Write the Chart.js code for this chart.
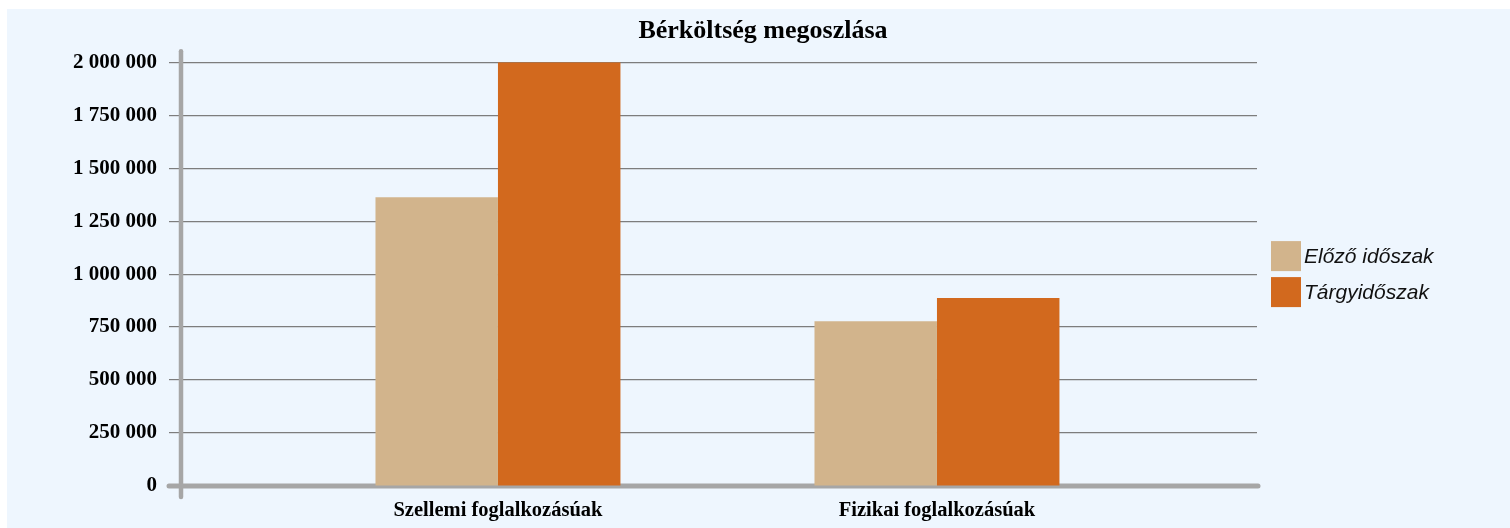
<!DOCTYPE html>
<html lang="hu">
<head>
    <meta charset="UTF-8">
    <title>Bérköltség megoszlása</title>
    <script src="https://cdn.jsdelivr.net/npm/chart.js"></script>
    <style>
        body { margin: 0; background: #ffffff; }
        #wrap { position: absolute; left: 7px; top: 9px; width: 1503px; height: 519px; background: #eef6fe; }
    </style>
</head>
<body>
    <div id="wrap"><canvas id="berChart"></canvas></div>

<script>
    // Data
    const categories = ['Szellemi foglalkozásúak', 'Fizikai foglalkozásúak'];
    const seriesNames = ['Előző időszak', 'Tárgyidőszak'];
    const elozo = [1363000, 778000];
    const targy = [2000000, 887000];
    const yTicks = [0, 250000, 500000, 750000, 1000000, 1250000, 1500000, 1750000, 2000000];

    const colors = ['#d2b48c', '#d2691e'];
    const serif = '"Liberation Serif", "Times New Roman", serif';

    function fmt(n) {
        return n.toString().replace(/\B(?=(\d{3})+(?!\d))/g, ' ');
    }

    // thick axis lines + legend drawn by hand
    const axesAndLegend = {
        id: 'axesAndLegend',
        beforeDatasetsDraw(chart) {
            const ctx = chart.ctx;
            const a = chart.chartArea;
            ctx.save();
            ctx.strokeStyle = '#a6a6a6';
            ctx.lineCap = 'round';
            ctx.lineWidth = 4.5;
            ctx.beginPath();
            ctx.moveTo(a.left, a.top - 11);
            ctx.lineTo(a.left, a.bottom + 11);
            ctx.stroke();
            ctx.lineWidth = 5;
            ctx.beginPath();
            ctx.moveTo(a.left - 12, a.bottom);
            ctx.lineTo(a.right + 1, a.bottom);
            ctx.stroke();
            ctx.restore();
        },
        afterDraw(chart) {
            const ctx = chart.ctx;
            const a = chart.chartArea;
            const box = 30, gap = 6;
            const n = chart.data.datasets.length;
            let y = (a.top + a.bottom) / 2 - (n * box + (n - 1) * gap) / 2;
            const x = a.right + 14;
            ctx.save();
            ctx.font = 'italic 21px "Liberation Sans", Arial, sans-serif';
            ctx.textBaseline = 'middle';
            chart.data.datasets.forEach(ds => {
                ctx.fillStyle = ds.backgroundColor;
                ctx.fillRect(x, y, box, box);
                ctx.fillStyle = '#111';
                ctx.fillText(ds.label, x + box + 3, y + box / 2 + 1);
                y += box + gap;
            });
            ctx.restore();
        }
    };

    const ctx = document.getElementById('berChart').getContext('2d');
    const chart = new Chart(ctx, {
        type: 'bar',
        data: {
            datasets: [
                {
                    label: seriesNames[0],
                    backgroundColor: colors[0],
                    data: elozo.map((v, i) => ({ x: i, y: v }))
                },
                {
                    label: seriesNames[1],
                    backgroundColor: colors[1],
                    data: targy.map((v, i) => ({ x: i, y: v }))
                }
            ]
        },
        options: {
            responsive: true,
            maintainAspectRatio: false,
            animation: false,
            categoryPercentage: 0.558,
            barPercentage: 1,
            layout: { padding: { left: 9, right: 0, top: 0, bottom: 0 } },
            plugins: {
                legend: { display: false },
                tooltip: { enabled: false },
                title: {
                    display: true,
                    text: 'Bérköltség megoszlása',
                    color: '#000',
                    font: { family: serif, size: 26, weight: 'bold' },
                    padding: { top: 7, bottom: 15 }
                }
            },
            scales: {
                x: {
                    type: 'linear',
                    min: -0.722,
                    max: 1.729,
                    offset: false,
                    grid: { display: false, drawTicks: false },
                    border: { display: false },
                    afterBuildTicks: s => { s.ticks = categories.map((c, i) => ({ value: i })); },
                    afterFit: s => { s.height = 42; },
                    ticks: {
                        autoSkip: false,
                        maxRotation: 0,
                        padding: 12,
                        color: '#000',
                        font: { family: serif, size: 20.5, weight: 'bold' },
                        callback: v => categories[v]
                    }
                },
                y: {
                    min: 0,
                    max: 2000000,
                    afterBuildTicks: s => { s.ticks = yTicks.map(v => ({ value: v })); },
                    afterFit: s => { s.width = 165; },
                    grid: { color: '#7d7d7d', lineWidth: 1.2, tickLength: 12 },
                    border: { display: false },
                    ticks: {
                        padding: 12,
                        color: '#000',
                        font: { family: serif, size: 21, weight: 'bold' },
                        callback: v => fmt(v)
                    }
                },
                // empty right-hand scale that only reserves room for the legend
                yRight: {
                    position: 'right',
                    min: 0,
                    max: 1,
                    grid: { display: false, drawTicks: false },
                    border: { display: false },
                    ticks: { display: false },
                    afterFit: s => { s.width = 253; }
                }
            }
        },
        plugins: [axesAndLegend]
    });
</script>
</body>
</html>
